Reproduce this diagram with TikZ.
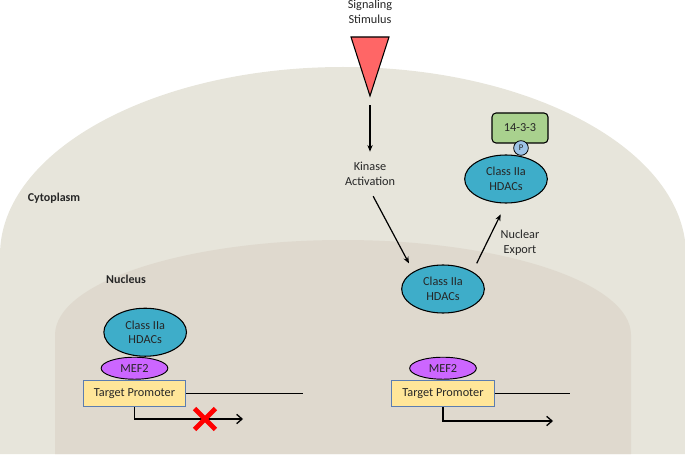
\documentclass[tikz,border=0pt]{standalone}
\usepackage{fontspec}
\setmainfont{Carlito}
\usetikzlibrary{positioning, shapes.geometric, shapes.misc, arrows.meta}
\definecolor{cytofill}{RGB}{231,229,219}
\definecolor{nucfill}{RGB}{223,217,206}
\definecolor{hdacblue}{RGB}{62,173,201}
\definecolor{mefviolet}{RGB}{204,102,255}
\definecolor{promyellow}{RGB}{255,230,153}
\definecolor{promedge}{RGB}{91,125,177}
\definecolor{ywhagreen}{RGB}{169,209,142}
\definecolor{pblue}{RGB}{157,195,230}
\definecolor{stimred}{RGB}{255,102,102}
\definecolor{txtgray}{RGB}{38,38,38}
\tikzset{
    every node/.style={font=\fontsize{9.2}{11}\selectfont, text=txtgray},
    hdac/.style={ellipse, draw, line width=0.8pt, fill=hdacblue, minimum width=62pt, minimum height=36pt, inner sep=0pt, align=center},
    mef/.style={ellipse, draw, line width=0.7pt, fill=mefviolet, minimum width=50pt, minimum height=16.5pt, inner sep=0pt},
    promoter/.style={rectangle, draw=promedge, line width=0.7pt, fill=promyellow, minimum width=77pt, minimum height=20pt, inner sep=0pt},
    ywha/.style={rectangle, rounded corners=3pt, draw, line width=0.8pt, fill=ywhagreen, minimum width=42pt, minimum height=22.5pt, inner sep=0pt},
    phospho/.style={circle, draw, line width=0.6pt, fill=pblue, minimum size=11pt, inner sep=0pt, font=\fontsize{6.5}{7}\selectfont},
    stimulus/.style={draw, line width=0.8pt, fill=stimred},
    label text/.style={align=center},
    region label/.style={font=\bfseries\fontsize{9}{11}\selectfont},
    signal/.style={line width=0.9pt, -{Stealth[length=5pt, width=4pt]}},
    tss/.style={line width=1pt, -{Straight Barb[length=4pt, width=7pt]}},
    dna/.style={line width=1pt},
    blocked/.style={cross out, draw=red, line width=3.6pt, minimum size=12pt, inner sep=0pt}
}
\begin{document}
\begin{tikzpicture}[x=0.75pt, y=0.75pt]
    \useasboundingbox (0,0) rectangle (685,454);

    % --- Cell compartments ---
    \fill[cytofill] (0,0) -- (0,199) arc[start angle=180, end angle=0, x radius=343, y radius=188] -- (686,0) -- cycle;
    \fill[nucfill] (55,0) -- (55,119) arc[start angle=180, end angle=0, x radius=288, y radius=95] -- (631,0) -- cycle;
    \node (cyto) [region label] at (54,256) {Cytoplasm};
    \node (nuc) [region label] at (126,175) {Nucleus};

    % --- Signal ---
    \node (stimtext) [label text] at (370,442) {Signaling\\Stimulus};
    \draw[stimulus] (351,417) -- (389,417) -- (370,358) -- cycle;
    \coordinate (stimtip) at (370,358);
    \node (kinase) [label text] at (370,280) {Kinase\\Activation};

    % --- HDACs ---
    \node (hdacM) [hdac] at (443,165) {Class IIa\\HDACs};
    \node (hdacT) [hdac] at (506,275) {Class IIa\\HDACs};
    \node (ywha) [ywha] at (520,326) {14-3-3};
    \node (pho) [phospho] at (521,306) {P};
    \node (export) [label text] at (520,211) {Nuclear\\Export};

    % --- Promoters ---
    \node (promL) [promoter] at (134.5,60.5) {Target Promoter};
    \node (mefL) [mef, above=0pt of promL] {MEF2};
    \node (hdacL) [hdac, above=0pt of mefL, xshift=8pt] {Class IIa\\HDACs};
    \node (promR) [promoter] at (443,60.5) {Target Promoter};
    \node (mefR) [mef, above=0pt of promR] {MEF2};
    \coordinate (dnaL) at (303,60.5);
    \coordinate (dnaR) at (570,60.5);
    \coordinate (tssL) at (243,35);
    \coordinate (tssR) at (553,33);

    % --- Arrows ---
    \draw[signal, shorten <=7pt, shorten >=4.5pt] (stimtip) -- (kinase.north);
    \draw[signal, shorten <=5pt, shorten >=7pt] (kinase.south) -- (hdacM.north west);
    \draw[signal, shorten <=7pt, shorten >=9pt] (hdacM.north east) -- (hdacT.south);
    \draw[dna] (promL.east) -- (dnaL);
    \draw[dna] (promR.east) -- (dnaR);
    \draw[tss] (promL.south) |- (tssL);
    \draw[tss] (promR.south) |- (tssR);
    \node (blockL) [blocked] at (205,35) {};
\end{tikzpicture}
\end{document}
